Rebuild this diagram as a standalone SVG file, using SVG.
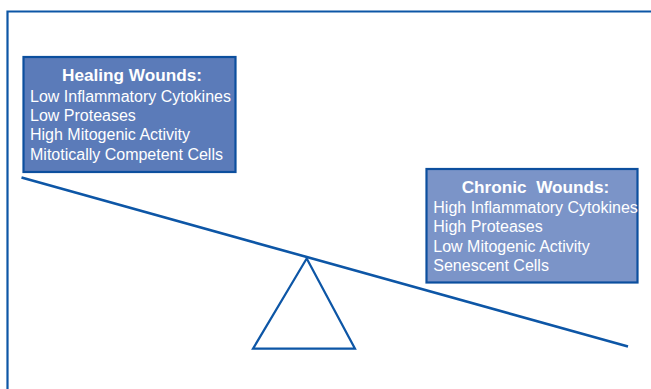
<svg xmlns="http://www.w3.org/2000/svg" width="651" height="389" viewBox="0 0 651 389">
<style>
.ln{fill:none;stroke:#0d56a6;stroke-linecap:butt;}
.box{stroke:#0c4f9e;stroke-width:2.2;}
.t{font-family:"Liberation Sans",Arial,sans-serif;fill:#ffffff;font-size:16px;}
.h{font-weight:bold;font-size:17.2px;text-anchor:middle;}
</style>
<rect width="651" height="389" fill="#ffffff"/>
<g id="frame"><path class="ln" stroke-width="2.2" d="M7.5,389 V11.5 H651"/></g>
<g id="connectors">
<line class="ln" stroke-width="2.6" x1="21.5" y1="177.5" x2="628" y2="346.5"/>
</g>
<g id="fulcrum"><polygon class="ln" stroke-width="2.2" stroke-linejoin="miter" points="306.7,258.5 253,348.7 355,348.7"/></g>
<g id="healing">
<rect class="box" x="23.5" y="57" width="212" height="115" fill="#5b7bb9"/>
<text class="t h" x="132" y="81">Healing Wounds:</text>
<text class="t" x="30" y="101.5">Low Inflammatory Cytokines</text>
<text class="t" x="30" y="120.5">Low Proteases</text>
<text class="t" x="30" y="140">High Mitogenic Activity</text>
<text class="t" x="30" y="159.5">Mitotically Competent Cells</text>
</g>
<g id="chronic">
<rect class="box" x="426.5" y="169" width="211" height="113.5" fill="#7b94c8"/>
<text class="t h" x="535.5" y="193.3" xml:space="preserve">Chronic  Wounds:</text>
<text class="t" x="433.3" y="213.3">High Inflammatory Cytokines</text>
<text class="t" x="433.3" y="232">High Proteases</text>
<text class="t" x="433.3" y="251.5">Low Mitogenic Activity</text>
<text class="t" x="433.3" y="270.7">Senescent Cells</text>
</g>
</svg>
